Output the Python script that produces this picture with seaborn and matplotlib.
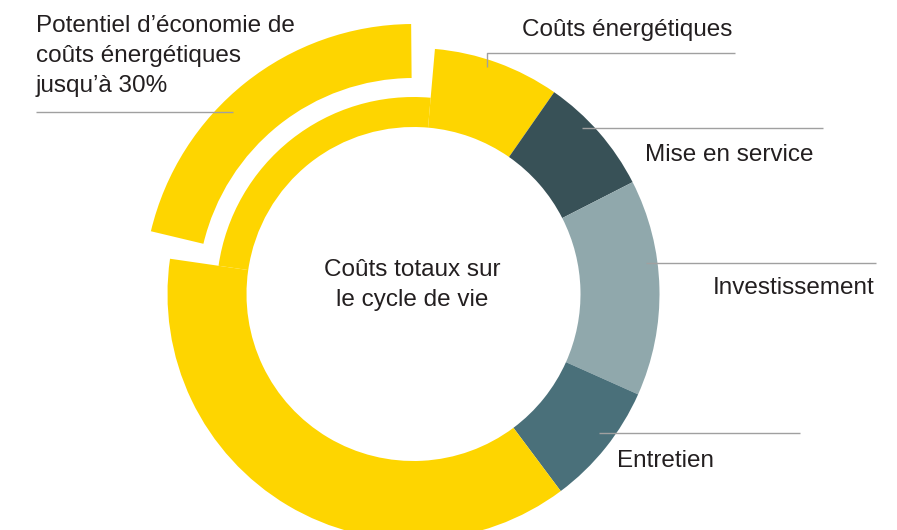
import numpy as np
import seaborn as sns
import matplotlib.pyplot as plt
from matplotlib.patches import Wedge

# share of the full ring (%), clockwise starting near the top
segments = ["Coûts énergétiques", "Mise en service", "Investissement", "Entretien",
            "Coûts énergétiques (bas)", "Potentiel d'économie"]
shares = [8.3, 7.8, 14.2, 8.1, 37.5, 24.1]
colors = ["#FED500", "#385157", "#90A8AC", "#4A707A", "#FED500", "#FED500"]

label_texts = ["Coûts énergétiques", "Mise en service", "Investissement", "Entretien"]
center_text = "Coûts totaux sur\nle cycle de vie"
potential_text = "Potentiel d’économie de\ncoûts énergétiques\njusqu’à 30%"

sns.set_theme(style="white")
plt.rcParams['font.family'] = ['Liberation Sans', 'DejaVu Sans']

W, H = 897, 530
fig = plt.figure(figsize=(W / 100, H / 100), dpi=100)
ax = fig.add_axes([0, 0, 1, 1])
ax.set_xlim(0, W)
ax.set_ylim(0, H)
ax.set_aspect('equal')
ax.axis('off')

# ring geometry (pixels)
cx, cy = 413.5, H - 294
r_in, r_out, r_thin = 167, 246, 197
r_exp_in, r_exp_out = 216, 270
start = 85.0

angles = start - np.concatenate([[0], np.cumsum(shares)]) * 3.6
for i, (a0, a1) in enumerate(zip(angles[:-1], angles[1:])):
    if i == len(shares) - 1:
        # thin remaining ring + exploded "potential" arc
        ax.add_patch(Wedge((cx, cy), r_thin, a1, a0, width=r_thin - r_in,
                           facecolor=colors[i], edgecolor='none'))
        ax.add_patch(Wedge((cx, cy), r_exp_out, a1 + 5.5, a0 - 5.2,
                           width=r_exp_out - r_exp_in,
                           facecolor=colors[i], edgecolor='none'))
    else:
        ax.add_patch(Wedge((cx, cy), r_out, a1, a0, width=r_out - r_in,
                           facecolor=colors[i], edgecolor='none'))

txt_color = "#231F20"
line_color = "#A0A0A0"
fs = 17.5

def y(v):
    return H - v

# leader lines (image coords)
leaders = [
    [(487, 67), (487, 53), (735, 53)],
    [(582, 128), (823, 128)],
    [(646, 263), (876, 263)],
    [(599, 433), (800, 433)],
    [(36, 112), (233, 112)],
]
for pts in leaders:
    xs = [p[0] for p in pts]
    ys = [y(p[1]) for p in pts]
    ax.plot(xs, ys, color=line_color, lw=1.0, solid_capstyle='butt')

label_pos = [(522, 30), (645, 155), (713, 288), (617, 461)]
for t, (lx, ly) in zip(label_texts, label_pos):
    ax.text(lx, y(ly), t, fontsize=fs, color=txt_color, ha='left', va='center')

ax.text(36, y(56), potential_text, fontsize=fs, color=txt_color,
        ha='left', va='center', linespacing=1.46)
ax.text(412, y(285), center_text, fontsize=fs, color=txt_color,
        ha='center', va='center', multialignment='center', linespacing=1.42)

fig.savefig("out.png", dpi=100, facecolor='white')
